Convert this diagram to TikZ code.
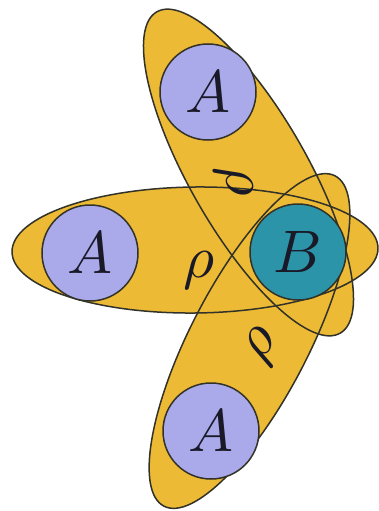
\documentclass[tikz,border=0pt]{standalone}
\usepackage{graphicx}
\usepackage{tikz}
\definecolor{goldfill}{RGB}{236,186,52}
\definecolor{lavA}{RGB}{170,170,234}
\definecolor{tealB}{RGB}{44,148,168}
\definecolor{edgec}{RGB}{50,50,40}
\definecolor{ink}{RGB}{25,25,40}
\newcommand{\bigsym}[1]{\scalebox{6}{$#1$}}
\begin{document}
\begin{tikzpicture}[x=1pt,y=-1pt,
  lobe/.style={fill=goldfill},
  lobeline/.style={draw=edgec,line width=1.5pt},
  atomA/.style={circle,draw=edgec,line width=1.5pt,fill=lavA,minimum size=96pt,inner sep=0pt,text=ink},
  atomB/.style={atomA,fill=tealB},
  bond/.style={text=ink,inner sep=0pt}]
\useasboundingbox (0,0) rectangle (379,511);
\fill[white] (0,0) rectangle (379,511);
% lobes: fills
\path[lobe,shift={(195,250)},rotate=0.6] (0,0) ellipse (183 and 63);
\path[lobe,shift={(248.5,172.5)},rotate=119.7] (0,0) ellipse (185 and 59);
\path[lobe,shift={(249.5,341)},rotate=62.6] (0,0) ellipse (186 and 59);
% lobes: outlines
\path[lobeline,shift={(195,250)},rotate=0.6] (0,0) ellipse (183 and 63);
\path[lobeline,shift={(248.5,172.5)},rotate=119.7] (0,0) ellipse (185 and 59);
\path[lobeline,shift={(249.5,341)},rotate=62.6] (0,0) ellipse (186 and 59);
% atoms
\node[atomA] (a1) at (208,92) {\bigsym{A}};
\node[atomA] (a2) at (90,253) {\bigsym{A}};
\node[atomA] (a3) at (211,431) {\bigsym{A}};
\node[atomB] (b) at (298,252) {\bigsym{B}};
% bonds
\node[bond] (r2) at (199,270) {\bigsym{\rho}};
\node[bond,rotate=-85] (r1) at (234,181) {\bigsym{\rho}};
\node[bond,rotate=55] (r3) at (264,347) {\bigsym{\rho}};
\end{tikzpicture}
\end{document}
